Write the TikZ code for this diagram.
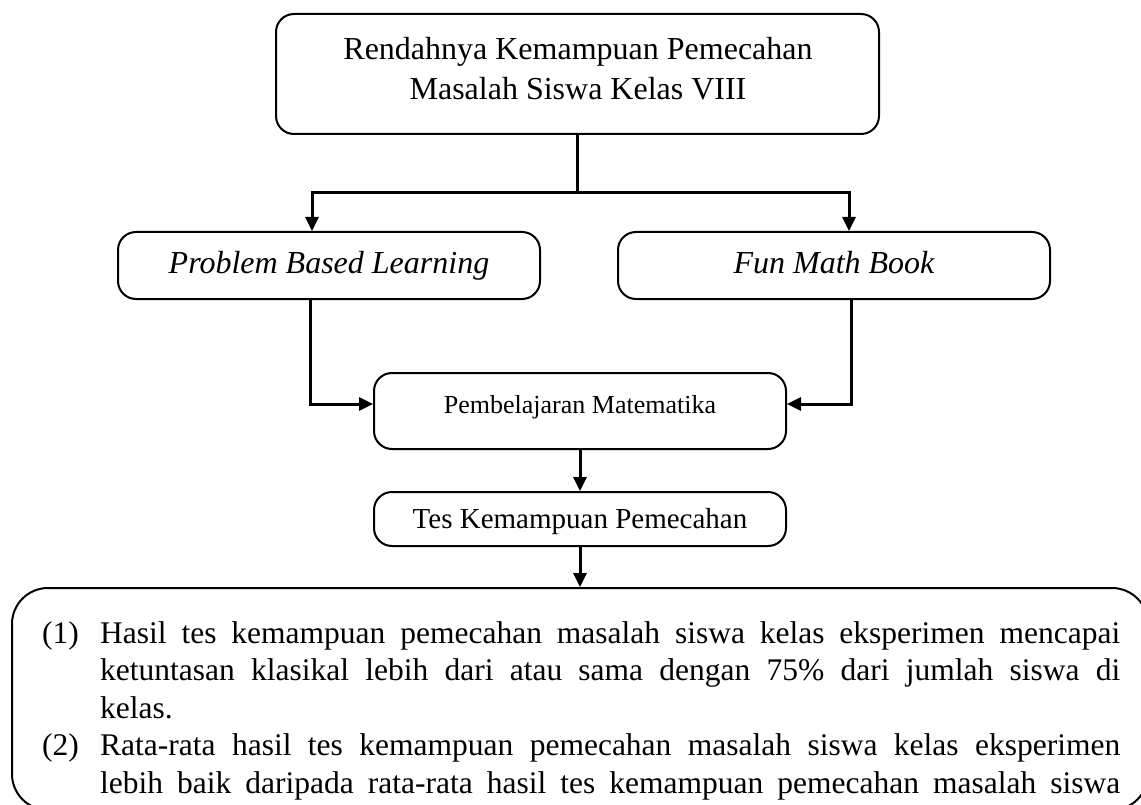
\documentclass[tikz,border=0pt]{standalone}
\usepackage{fontspec}
\setmainfont{Liberation Serif}
\usetikzlibrary{arrows.meta}
\begin{document}
\begin{tikzpicture}[x=1pt,y=-1pt,
  box/.style={draw, line width=2pt, rounded corners=18pt, inner sep=0pt, align=center},
  conn/.style={line width=3pt},
  arr/.style={line width=3pt, -{Triangle[length=14pt,width=13pt]}},
]
\useasboundingbox (0,0) rectangle (1141,805);
\clip (0,0) rectangle (1141,805);

\node[box, minimum width=603pt, minimum height=120pt] (top) at (577.5,74) {};
\node[align=center, inner sep=0pt, font=\fontsize{32}{40}\selectfont] (toptext) at (578,69)
  {Rendahnya Kemampuan Pemecahan\\Masalah Siswa Kelas VIII};
\node[box, text height=22pt, text depth=7pt, font=\fontsize{32}{40}\selectfont\itshape, minimum width=422pt, minimum height=67pt] (pbl) at (329,265.5)
  {Problem Based Learning};
\node[box, text height=22pt, text depth=7pt, font=\fontsize{32}{40}\selectfont\itshape, minimum width=432pt, minimum height=67pt] (fmb) at (834,265.5)
  {Fun Math Book};
\node[box, text height=17pt, text depth=12pt, font=\fontsize{26}{32}\selectfont, minimum width=412pt, minimum height=76pt] (pem) at (580,411)
  {Pembelajaran Matematika};
\node[box, text height=22pt, text depth=3pt, font=\fontsize{29}{36}\selectfont, minimum width=412pt, minimum height=54pt] (tes) at (580,519)
  {Tes Kemampuan Pemecahan};
\node[draw, line width=2pt, rounded corners=36pt, minimum width=1136pt, minimum height=222pt] (bot) at (580,699) {};

\node[anchor=base west, inner sep=0pt] (items) at (42,643) {\parbox[t]{1078pt}{\fontsize{31.5}{37.5}\selectfont
\makebox[58pt][l]{(1)}\makebox[1020pt][s]{Hasil tes kemampuan pemecahan masalah siswa kelas eksperimen mencapai}\\
\hspace*{58pt}\makebox[1020pt][s]{ketuntasan klasikal lebih dari atau sama dengan 75\% dari jumlah siswa di}\\
\hspace*{58pt}kelas.\\
\makebox[58pt][l]{(2)}\makebox[1020pt][s]{Rata-rata hasil tes kemampuan pemecahan masalah siswa kelas eksperimen}\\
\hspace*{58pt}\makebox[1020pt][s]{lebih baik daripada rata-rata hasil tes kemampuan pemecahan masalah siswa}}};

\coordinate (jl) at (312,193);
\coordinate (jr) at (849,193);
\draw[conn] (top.south) -- (top.south |- jl);
\draw[arr] (top.south |- jl) -- (jl) -- (jl |- pbl.north);
\draw[arr] (top.south |- jr) -- (jr) -- (jr |- fmb.north);

\coordinate (ll) at (310,404);
\coordinate (rr) at (851,404);
\draw[arr] (ll |- pbl.south) -- (ll) -- (ll -| pem.west);
\draw[arr] (rr |- fmb.south) -- (rr) -- (rr -| pem.east);

\draw[arr] (pem.south) -- (tes.north);
\draw[arr] (tes.south) -- (bot.north);
\end{tikzpicture}
\end{document}
